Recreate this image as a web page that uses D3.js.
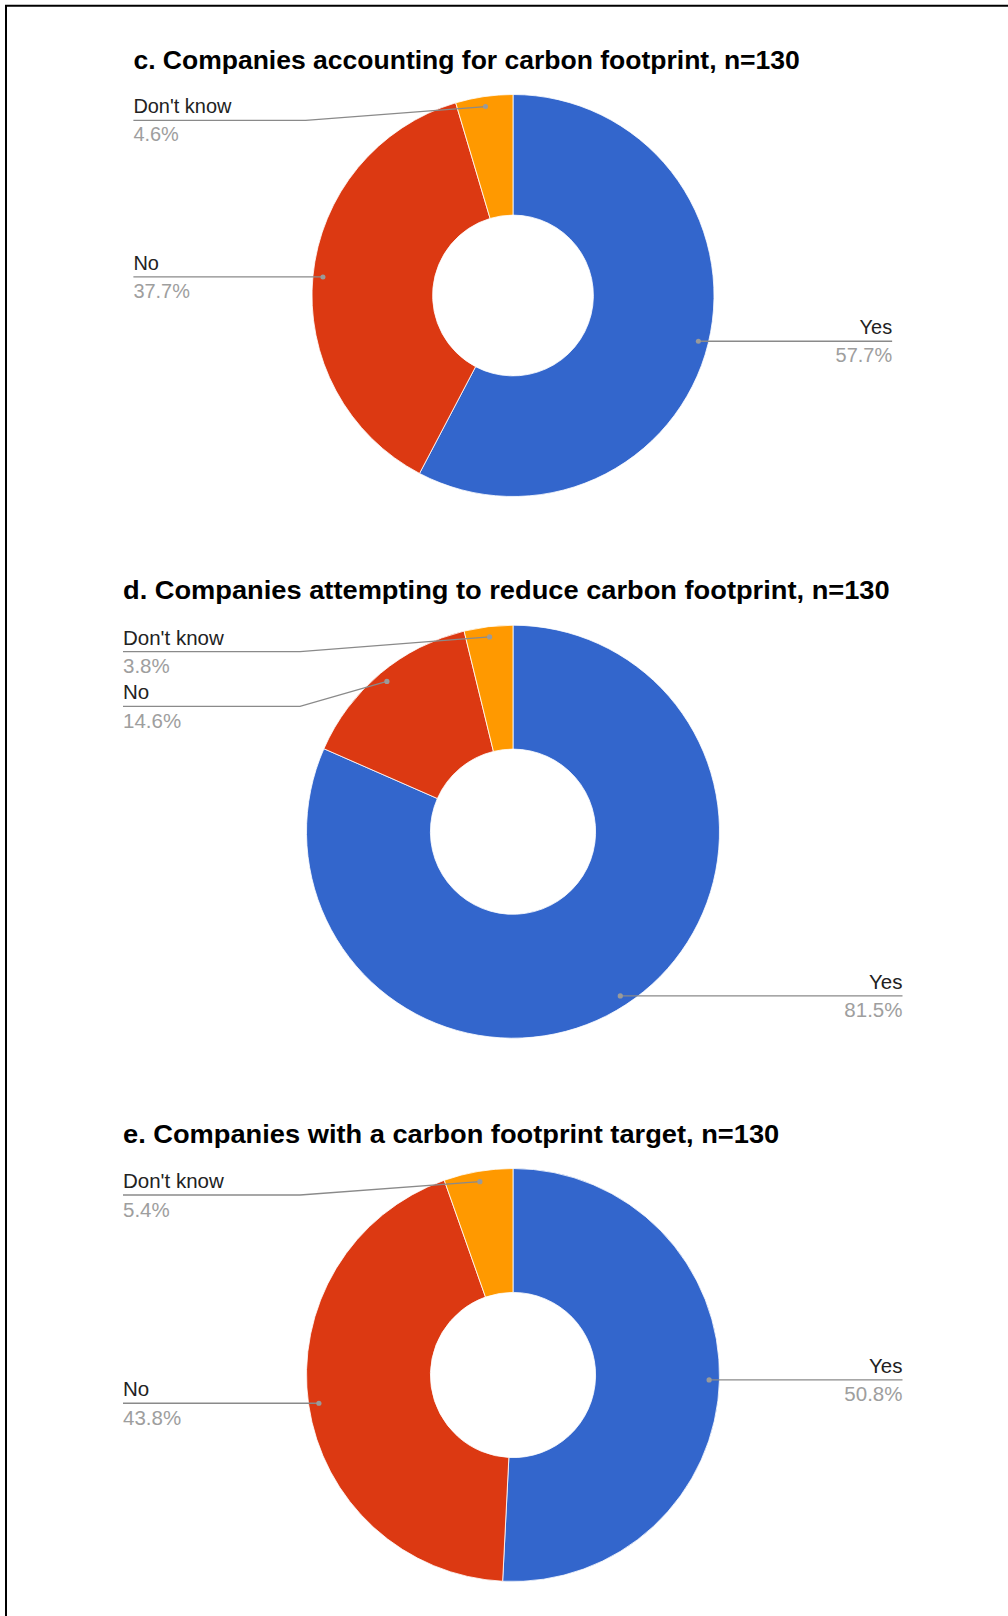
<!DOCTYPE html>
<html>
<head>
<meta charset="utf-8">
<script src="https://cdn.jsdelivr.net/npm/d3@7"></script>
<style>
  html, body { margin: 0; padding: 0; background: #fff; }
  svg { display: block; }
  text { font-family: "Liberation Sans", Arial, sans-serif; }
</style>
</head>
<body>
<svg id="chart" width="1008" height="1616"></svg>
<script>
// ---- data ----
const categories = ["Yes", "No", "Don't know"];
const titles = [
  "c. Companies accounting for carbon footprint, n=130",
  "d. Companies attempting to reduce carbon footprint, n=130",
  "e. Companies with a carbon footprint target, n=130"
];
const accountingPct = [57.7, 37.7, 4.6];
const reducingPct = [81.5, 14.6, 3.8];
const targetPct = [50.8, 43.8, 5.4];
const seriesList = [accountingPct, reducingPct, targetPct];
const sliceColors = ["#3366cc", "#dc3912", "#ff9900"];

// ---- layout ----
const centerX = 513;
const centerYs = [295.5, 831.7, 1375];
const outerRadii = [201, 206.5, 206.5];
const baseRadius = 206.5;
const titleSizes = [25.5, 26, 26];
const titleStretch = [1.04, 1.048, 1.048];
const labelSize = 20.5;

const svg = d3.select("#chart");

// page frame (top and left rules)
svg.append("line").attr("x1", 5).attr("x2", 1008).attr("y1", 5.7).attr("y2", 5.7)
  .attr("stroke", "#000").attr("stroke-width", 2);
svg.append("line").attr("x1", 6).attr("x2", 6).attr("y1", 5).attr("y2", 1616)
  .attr("stroke", "#000").attr("stroke-width", 2);

const color = d3.scaleOrdinal().domain(categories).range(sliceColors);
const pie = d3.pie().sort(null).value(d => d.value);

seriesList.forEach((series, i) => {
  const cy = centerYs[i];
  const R = outerRadii[i];
  const s = R / baseRadius;
  const g = svg.append("g");

  const data = categories.map((c, k) => ({ name: c, value: series[k] }));
  const arcs = pie(data);

  const arc = d3.arc().innerRadius(R * 0.4).outerRadius(R);
  const dotArc = d3.arc().innerRadius(R * 0.95).outerRadius(R * 0.95);

  // title
  const tx = centerX - 390 * s;
  const ty = cy - R - 26 * s;
  g.append("text")
    .attr("transform", `translate(${tx},${ty}) scale(${titleStretch[i]},1)`)
    .attr("font-size", titleSizes[i])
    .attr("font-weight", "bold")
    .attr("fill", "#000")
    .text(titles[i]);

  // slices
  g.selectAll("path.slice").data(arcs).join("path")
    .attr("class", "slice")
    .attr("transform", `translate(${centerX},${cy})`)
    .attr("d", arc)
    .attr("fill", d => color(d.data.name))
    .attr("stroke", "#fff")
    .attr("stroke-width", 0.8);

  // label placement: anchor dot at mid-angle, label rows pushed down to avoid overlap
  const labels = arcs.map(a => {
    const [px, py] = dotArc.centroid(a);
    const mid = (a.startAngle + a.endAngle) / 2;
    return {
      name: a.data.name,
      value: a.data.value,
      dx: centerX + px,
      dy: cy + py,
      side: mid < Math.PI ? "right" : "left"
    };
  });
  const minY = cy - R + 26.5 * s;
  const gap = 54.6 * s;
  ["left", "right"].forEach(side => {
    const items = labels.filter(l => l.side === side).sort((a, b) => a.dy - b.dy);
    let prev = -Infinity;
    items.forEach(l => {
      l.ly = Math.max(l.dy, minY, prev + gap);
      prev = l.ly;
    });
  });

  const fmt = d3.format(".1f");
  labels.forEach(l => {
    const left = l.side === "left";
    const textX = left ? centerX - 390 * s : centerX + 389.5 * s;
    const elbowX = left ? centerX - 213 * s : centerX + 213 * s;
    const pts = [[textX, l.ly], [elbowX, l.ly], [l.dx, l.dy]];
    g.append("path")
      .attr("d", d3.line()(pts))
      .attr("fill", "none")
      .attr("stroke", "#8a8a8a")
      .attr("stroke-width", 1.3);
    g.append("circle")
      .attr("cx", l.dx).attr("cy", l.dy).attr("r", 2.6 * s)
      .attr("fill", "#9a9a9a");
    g.append("text")
      .attr("x", textX).attr("y", l.ly - 7 * s)
      .attr("text-anchor", left ? "start" : "end")
      .attr("font-size", labelSize * s)
      .attr("fill", "#222")
      .text(l.name);
    g.append("text")
      .attr("x", textX).attr("y", l.ly + 21.5 * s)
      .attr("text-anchor", left ? "start" : "end")
      .attr("font-size", labelSize * s)
      .attr("fill", "#9e9e9e")
      .text(fmt(l.value) + "%");
  });
});
</script>
</body>
</html>
